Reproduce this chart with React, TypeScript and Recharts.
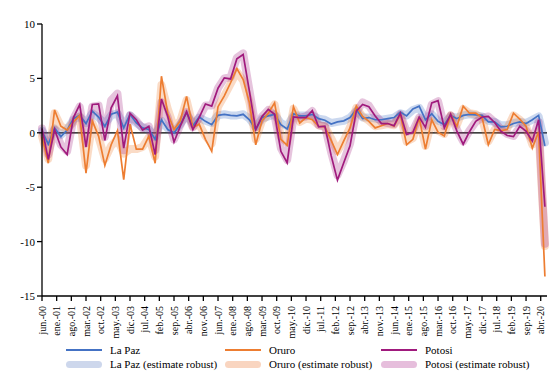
import React from "react";
import { LineChart, Line, XAxis, YAxis, ReferenceLine } from "recharts";

// quarterly observations, first one at jun-00
const laPaz = [
  0.15, -1.05, 0.45, -0.35, 0.25, 1.3, 1.6, 0.85, 2.0, 1.45,
  0.6, 1.7, 1.9, 0.45, 1.7, 0.9, 0.45, 0.3, -0.6, 1.2,
  0.3, 0.0, 0.75, 1.85, 0.65, 1.45, 1.05, 0.75, 1.6, 1.7,
  1.6, 1.55, 1.7, 1.2, 0.3, 1.4, 1.55, 1.7, 0.75, 0.35,
  1.75, 1.55, 1.55, 1.7, 1.3, 1.15, 0.8, 1.0, 1.1, 1.4,
  2.15, 1.3, 1.4, 1.2, 1.2, 1.3, 1.4, 1.9, 1.55, 2.2,
  2.45, 1.2, 1.75, 1.05, 0.75, 1.6, 1.3, 1.6, 1.7, 1.65,
  1.6, 1.0, 1.0, 0.55, 0.6, 0.85, 1.0, 0.85, 1.2, 1.6,
  -1.2,
];

const laPazRobust = [
  0.2, -0.8, 0.4, -0.2, 0.3, 1.2, 1.5, 0.9, 1.8, 1.4,
  0.8, 1.6, 1.8, 0.6, 1.6, 0.9, 0.5, 0.3, -0.4, 1.1,
  0.4, 0.1, 0.8, 1.7, 0.8, 1.4, 1.1, 0.9, 1.6, 1.7,
  1.6, 1.6, 1.7, 1.3, 0.5, 1.3, 1.5, 1.7, 0.9, 0.6,
  1.6, 1.6, 1.6, 1.6, 1.3, 1.2, 0.9, 1.0, 1.1, 1.4,
  2.0, 1.4, 1.4, 1.3, 1.2, 1.3, 1.4, 1.8, 1.6, 2.1,
  2.3, 1.3, 1.7, 1.1, 0.9, 1.5, 1.4, 1.6, 1.7, 1.6,
  1.5, 1.1, 1.0, 0.7, 0.7, 0.9, 1.0, 0.9, 1.2, 1.5,
  -0.9,
];

const oruro = [
  -0.4, -2.8, 2.1, 0.6, 0.25, 1.0, 1.6, -3.7, 1.1, -0.3,
  -3.0, -1.1, 0.2, -4.3, 0.8, -1.5, -1.5, -0.3, -2.8, 5.2,
  1.8, 0.3, 1.1, 3.35, 0.45, 0.8, -0.6, -1.7, 2.4, 3.4,
  4.6, 5.9, 4.9, 2.75, -1.1, 1.1, 1.8, 2.75, -0.6, -1.15,
  2.4, 0.9, 1.4, 1.2, 0.6, 0.55, -0.7, -2.0, -0.75, 0.45,
  2.45, 1.5, 1.05, 0.45, 0.65, 0.85, 0.6, 1.7, -1.1, -0.6,
  1.4, -1.5, 1.2, 0.05, -0.3, 1.7, 0.6, 2.45, 1.8, 1.8,
  1.4, -1.1, 0.3, 0.2, 0.3, 1.8, 1.25, 0.6, -1.4, 0.1,
  -13.2,
];

const oruroRobust = [
  -0.3, -2.4, 1.8, 0.6, 0.3, 1.0, 1.5, -3.0, 0.9, -0.4,
  -2.4, -1.2, -0.6, -1.9, -1.5, -1.5, -1.3, -0.4, -2.2, 4.4,
  2.2, 0.5, 1.1, 3.0, 0.6, 0.8, -0.3, -1.0, 2.4, 3.4,
  4.5, 5.6, 4.8, 2.8, -0.6, 1.1, 1.7, 2.6, -0.4, -0.9,
  2.2, 1.0, 1.3, 1.2, 0.7, 0.6, -0.5, -1.7, -0.7, 0.5,
  2.3, 1.5, 1.1, 0.6, 0.7, 0.8, 0.7, 1.6, -0.8, -0.5,
  1.2, -1.2, 1.1, 0.2, -0.1, 1.6, 0.7, 2.2, 1.8, 1.7,
  1.3, -0.8, 0.3, 0.3, 0.4, 1.6, 1.2, 0.6, -1.1, 0.1,
  -10.4,
];

const potosi = [
  0.4, -2.45, 0.3, -1.3, -2.0, 1.4, 2.6, -1.3, 2.6, 2.65,
  -0.7, 2.3, 3.4, -1.4, 1.8, 1.2, 0.25, 0.6, -2.0, 3.1,
  1.5, -0.85, 0.6, 1.95, 0.3, 1.4, 2.65, 2.45, 4.1, 5.05,
  4.95, 6.8, 7.2, 3.8, 0.3, 1.5, 2.15, 1.7, -1.7, -2.75,
  1.45, 1.4, 1.4, 2.05, 0.55, 0.6, -2.1, -4.35, -2.75, -1.2,
  2.0, 2.6, 2.4, 1.55, 0.85, 0.85, 0.65, 1.8, -0.15, 0.05,
  1.45, 0.5, 2.75, 2.95, 0.45, 1.7, 0.15, -1.05, 0.1, 1.05,
  1.45, 1.5, 0.95, 0.15, -0.25, -0.35, 0.6, 0.15, -0.75, 1.2,
  -6.8,
];

const potosiRobust = [
  0.4, -2.0, 0.3, -1.1, -1.7, 1.3, 2.4, -1.0, 2.4, 2.5,
  -0.4, 3.0, 3.6, -1.6, 1.6, 1.1, 0.4, 0.6, -1.6, 2.8,
  1.4, -0.6, 0.7, 1.9, 0.5, 1.4, 2.5, 2.5, 4.1, 5.0,
  5.1, 6.9, 7.3, 3.9, 0.5, 1.5, 2.1, 1.6, -1.4, -2.5,
  1.4, 1.4, 1.5, 2.0, 0.7, 0.6, -1.8, -3.9, -2.6, -1.0,
  1.9, 2.8, 2.5, 1.6, 1.0, 0.9, 0.8, 1.7, 0.1, 0.2,
  1.4, 0.6, 2.6, 2.9, 0.6, 1.6, 0.3, -0.8, 0.2, 1.0,
  1.4, 1.5, 1.0, 0.3, -0.1, -0.3, 0.5, 0.2, -0.6, 1.0,
  -10.2,
];

// axis labels every 7 months
const tickLabels = [
  "jun.-00", "ene.-01", "ago.-01", "mar.-02", "oct.-02", "may.-03", "dic.-03",
  "jul.-04", "feb.-05", "sep.-05", "abr.-06", "nov.-06", "jun.-07", "ene.-08",
  "ago.-08", "mar.-09", "oct.-09", "may.-10", "dic.-10", "jul.-11", "feb.-12",
  "sep.-12", "abr.-13", "nov.-13", "jun.-14", "ene.-15", "ago.-15", "mar.-16",
  "oct.-16", "may.-17", "dic.-17", "jul.-18", "feb.-19", "sep.-19", "abr.-20",
];
const yTicks = [-15, -10, -5, 0, 5, 10];

const FONT = '"Liberation Serif", "DejaVu Serif", serif';
const BLUE = "#4472C4";
const ORANGE = "#ED7D31";
const PURPLE = "#A01A7D";

const data = laPaz.map((v, i) => ({
  m: i * 3,
  laPaz: v,
  oruro: oruro[i],
  potosi: potosi[i],
  laPazR: laPazRobust[i],
  oruroR: oruroRobust[i],
  potosiR: potosiRobust[i],
}));

const xTicks = tickLabels.map((_, k) => k * 7);

const XTick = (props: any) => {
  const { x, y, payload } = props;
  return (
    <g transform={`translate(${x},${y})`}>
      <text
        transform="rotate(-90)"
        x={-3}
        y={3.5}
        textAnchor="end"
        fontSize={10}
        fontFamily={FONT}
        fill="#000"
      >
        {tickLabels[Math.round(payload.value / 7)]}
      </text>
    </g>
  );
};

const legendItems = [
  { label: "La Paz", color: BLUE, band: false, left: 66, row: 0 },
  { label: "Oruro", color: ORANGE, band: false, left: 225, row: 0 },
  { label: "Potosi", color: PURPLE, band: false, left: 381, row: 0 },
  { label: "La Paz (estimate robust)", color: "#CDD7EC", band: true, left: 66, row: 1 },
  { label: "Oruro (estimate robust)", color: "#F9D5C0", band: true, left: 225, row: 1 },
  { label: "Potosi (estimate robust)", color: "#E6BEDC", band: true, left: 381, row: 1 },
];

const App: React.FC = () => {
  return (
    <div style={{ position: "absolute", left: 0, top: 0, width: 559, height: 373, background: "#fff" }}>
      <LineChart
        width={559}
        height={340}
        data={data}
        margin={{ top: 24, right: 12, bottom: 0, left: 12 }}
      >
        <XAxis
          dataKey="m"
          type="number"
          domain={[0, 241]}
          ticks={xTicks}
          interval={0}
          tick={<XTick />}
          tickSize={5}
          height={44}
          axisLine={{ stroke: "#000", strokeWidth: 1.3 }}
          tickLine={{ stroke: "#000", strokeWidth: 1.3 }}
        />
        <YAxis
          type="number"
          domain={[-15, 10]}
          ticks={yTicks}
          interval={0}
          width={30}
          tickSize={5}
          axisLine={{ stroke: "#000", strokeWidth: 1.3 }}
          tickLine={{ stroke: "#000", strokeWidth: 1.3 }}
          tick={{ fontSize: 11, fill: "#000", fontFamily: FONT }}
        />
        <ReferenceLine y={0} stroke="#000" strokeWidth={1.3} />
        <Line dataKey="laPazR" stroke={BLUE} strokeOpacity={0.28} strokeWidth={8} strokeLinecap="round" strokeLinejoin="round" dot={false} activeDot={false} isAnimationActive={false} />
        <Line dataKey="oruroR" stroke={ORANGE} strokeOpacity={0.28} strokeWidth={8} strokeLinecap="round" strokeLinejoin="round" dot={false} activeDot={false} isAnimationActive={false} />
        <Line dataKey="potosiR" stroke={PURPLE} strokeOpacity={0.26} strokeWidth={8} strokeLinecap="round" strokeLinejoin="round" dot={false} activeDot={false} isAnimationActive={false} />
        <Line dataKey="laPaz" stroke={BLUE} strokeWidth={1.7} dot={false} activeDot={false} isAnimationActive={false} />
        <Line dataKey="oruro" stroke={ORANGE} strokeWidth={1.7} dot={false} activeDot={false} isAnimationActive={false} />
        <Line dataKey="potosi" stroke={PURPLE} strokeWidth={1.7} dot={false} activeDot={false} isAnimationActive={false} />
      </LineChart>
      {legendItems.map((it) => (
        <div
          key={it.label}
          style={{
            position: "absolute",
            left: it.left,
            top: it.row === 0 ? 343 : 357,
            height: 14,
            display: "flex",
            alignItems: "center",
            fontFamily: FONT,
            fontSize: 11,
            color: "#000",
            whiteSpace: "nowrap",
          }}
        >
          <span
            style={{
              display: "inline-block",
              width: 36,
              height: it.band ? 7 : 2,
              borderRadius: it.band ? 4 : 0,
              background: it.color,
              marginRight: 8,
            }}
          />
          {it.label}
        </div>
      ))}
    </div>
  );
};

export default App;
